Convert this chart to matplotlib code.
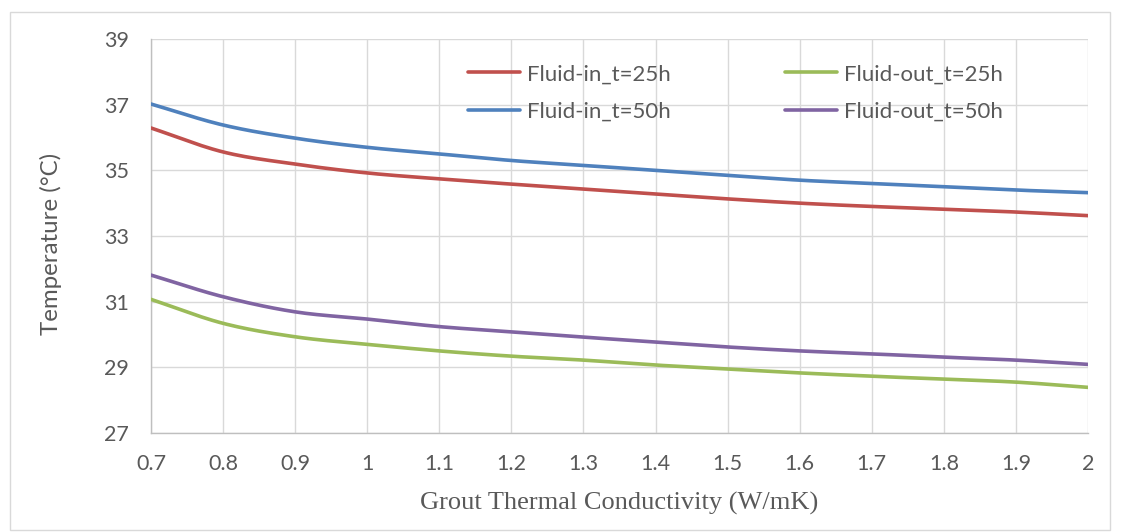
import numpy as np
import matplotlib
matplotlib.use("Agg")
import matplotlib.pyplot as plt
from matplotlib.patches import Rectangle

# Grout thermal conductivity (W/mK)
conductivity = [0.7, 0.8, 0.9, 1.0, 1.1, 1.2, 1.3, 1.4, 1.5, 1.6, 1.7, 1.8, 1.9, 2.0]

# Fluid temperatures (°C)
fluid_in_25h = [36.29, 35.56, 35.19, 34.92, 34.74, 34.58, 34.43, 34.28, 34.13, 34.00, 33.90, 33.82, 33.73, 33.62]
fluid_out_25h = [31.07, 30.34, 29.93, 29.70, 29.50, 29.34, 29.22, 29.07, 28.95, 28.83, 28.73, 28.64, 28.55, 28.39]
fluid_in_50h = [37.02, 36.38, 35.98, 35.70, 35.50, 35.30, 35.15, 35.00, 34.85, 34.70, 34.60, 34.50, 34.40, 34.32]
fluid_out_50h = [31.81, 31.15, 30.69, 30.47, 30.24, 30.08, 29.92, 29.77, 29.62, 29.50, 29.41, 29.31, 29.22, 29.09]

x_ticks = [0.7, 0.8, 0.9, 1.0, 1.1, 1.2, 1.3, 1.4, 1.5, 1.6, 1.7, 1.8, 1.9, 2.0]
x_tick_labels = ["0.7", "0.8", "0.9", "1", "1.1", "1.2", "1.3", "1.4", "1.5", "1.6", "1.7", "1.8", "1.9", "2"]
y_ticks = [27, 29, 31, 33, 35, 37, 39]


def smooth(xs, ys, n=20):
    """Catmull-Rom curve through the points, like a smoothed spreadsheet line."""
    xs = np.asarray(xs, float)
    ys = np.asarray(ys, float)
    px = np.concatenate([[2 * xs[0] - xs[1]], xs, [2 * xs[-1] - xs[-2]]])
    py = np.concatenate([[2 * ys[0] - ys[1]], ys, [2 * ys[-1] - ys[-2]]])
    out_x, out_y = [], []
    t = np.linspace(0, 1, n, endpoint=False)
    for i in range(1, len(px) - 2):
        for p, out in ((px, out_x), (py, out_y)):
            p0, p1, p2, p3 = p[i - 1], p[i], p[i + 1], p[i + 2]
            out.extend(0.5 * ((2 * p1) + (-p0 + p2) * t
                              + (2 * p0 - 5 * p1 + 4 * p2 - p3) * t ** 2
                              + (-p0 + 3 * p1 - 3 * p2 + p3) * t ** 3))
    out_x.append(xs[-1])
    out_y.append(ys[-1])
    return np.array(out_x), np.array(out_y)


W, H = 1121, 532
fig = plt.figure(figsize=(W / 100, H / 100), dpi=100)
fig.patch.set_facecolor("white")

# chart border
fig.add_artist(Rectangle((10 / W, 2 / H), 1100 / W, 518 / H, transform=fig.transFigure,
                         fill=False, edgecolor="#d9d9d9", linewidth=1.0))

ax = fig.add_axes([151 / W, 1 - 433 / H, (1088 - 151) / W, (433 - 39) / H])

series = {
    "in25": (fluid_in_25h, "Fluid-in_t=25h", "#c0504d"),
    "out25": (fluid_out_25h, "Fluid-out_t=25h", "#9bbb59"),
    "in50": (fluid_in_50h, "Fluid-in_t=50h", "#4f81bd"),
    "out50": (fluid_out_50h, "Fluid-out_t=50h", "#8064a2"),
}
handles = {}
for key, (ys, label, color) in series.items():
    sx, sy = smooth(conductivity, ys)
    handles[key], = ax.plot(sx, sy, color=color, linewidth=2.6, label=label,
                            solid_capstyle="round", zorder=3)

ax.set_xlim(0.7, 2.0)
ax.set_ylim(27, 39)
ax.set_xticks(x_ticks)
ax.set_xticklabels(x_tick_labels)
ax.set_yticks(y_ticks)

ax.grid(True, color="#d9d9d9", linewidth=1.0, zorder=0)
ax.set_axisbelow(True)
for side in ("top", "right"):
    ax.spines[side].set_visible(False)
for side in ("left", "bottom"):
    ax.spines[side].set_color("#bfbfbf")
    ax.spines[side].set_linewidth(1.0)
ax.tick_params(axis="x", length=0, pad=15, labelsize=15.5, labelcolor="#595959")
ax.tick_params(axis="y", length=0, pad=16, labelsize=15.5, labelcolor="#595959")
for lbl in ax.get_xticklabels() + ax.get_yticklabels():
    lbl.set_family("Lato")

ax.set_xlabel("Grout Thermal Conductivity (W/mK)", family="Liberation Serif",
              fontsize=19, color="#595959", labelpad=13)
ax.set_ylabel("Temperature (°C)", family="Lato", fontsize=17.3, color="#595959")
ax.yaxis.set_label_coords(-0.095, 0.48)

# two rows: 25 h on top, 50 h below (legend fills column by column)
order = ["in25", "in50", "out25", "out50"]
leg = ax.legend([handles[k] for k in order], [series[k][1] for k in order],
                ncol=2, loc="upper left", bbox_to_anchor=(0.338, 0.936), frameon=False,
                borderaxespad=0, borderpad=0,
                prop={"family": "Lato", "size": 16}, handlelength=2.34, handletextpad=0.31,
                columnspacing=5.18, labelspacing=0.8)
for t in leg.get_texts():
    t.set_color("#595959")

fig.savefig("out.png", dpi=100, facecolor="white")
